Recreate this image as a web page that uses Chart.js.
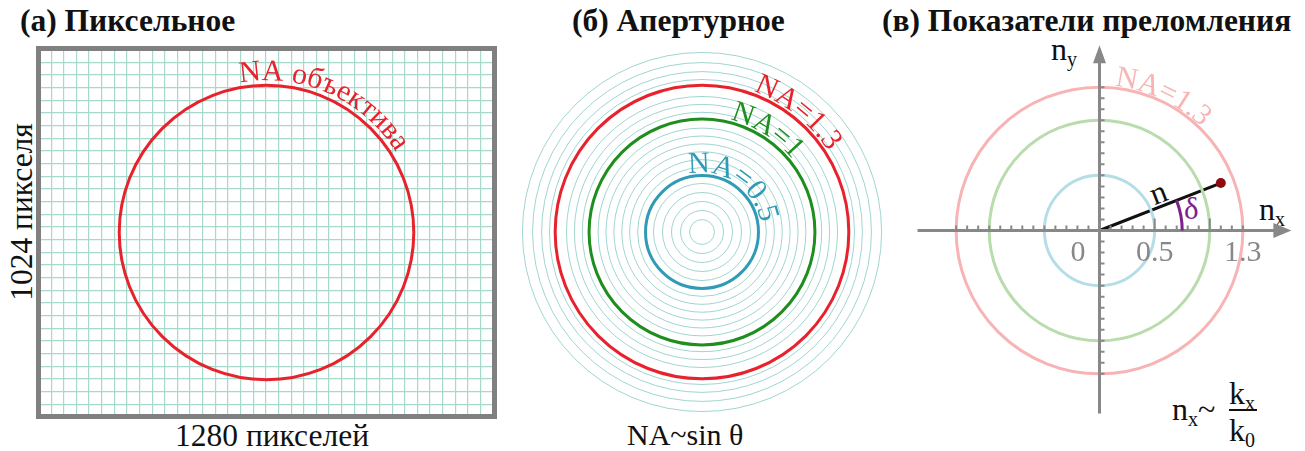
<!DOCTYPE html>
<html>
<head>
<meta charset="utf-8">
<script src="https://cdn.jsdelivr.net/npm/chart.js@4.4.1/dist/chart.umd.min.js"></script>
<style>
body{margin:0;background:#fff;width:1305px;height:451px;position:relative;overflow:hidden;font-family:"Liberation Serif","DejaVu Serif",serif;color:#111;}
.t{position:absolute;white-space:nowrap;line-height:1;}
.title{font-weight:bold;font-size:31.5px;}
.cap{font-size:31.5px;}
.lab{font-size:32px;}
.lab .s{font-size:20px;position:relative;top:6px;}
canvas{position:absolute;}
</style>
</head>
<body>
<div class="t title" style="left:20px;top:5px">(а) Пиксельное</div>
<div class="t title" style="left:572px;top:5px">(б) Апертурное</div>
<div class="t title" style="left:882px;top:5px">(в) Показатели преломления</div>

<div class="t cap" style="left:22px;top:212px;transform:translate(-50%,-50%) rotate(-90deg)">1024 пикселя</div>
<div class="t cap" style="left:175px;top:420px">1280 пикселей</div>
<div class="t cap" style="left:627px;top:420px;font-size:30px">NA~sin θ</div>

<div class="t lab" style="left:1051px;top:33px">n<span class="s">y</span></div>
<div class="t lab" style="left:1259px;top:193px">n<span class="s">x</span></div>
<div class="t lab" style="left:1150px;top:176px;transform:rotate(-21deg)">n</div>
<div class="t lab" style="left:1184px;top:193px;color:#7d1f8c;font-size:31px">δ</div>
<div class="t lab" style="left:1172px;top:393px">n<span class="s">x</span>~</div>
<div class="t lab" style="left:1229px;top:377px">k<span class="s">x</span></div>
<div style="position:absolute;left:1229px;top:409px;width:28px;height:2px;background:#111"></div>
<div class="t lab" style="left:1229px;top:414px">k<span class="s">0</span></div>

<canvas id="chartA" width="461" height="373" style="left:36px;top:46px"></canvas>
<canvas id="chartB" width="384" height="384" style="left:510px;top:40px"></canvas>
<canvas id="chartC" width="407" height="407" style="left:896px;top:27px"></canvas>

<script>
// (а) sensor frame, in camera pixels
const frameW = 1280, frameH = 1024;
const gridStepX = 35.85, gridStepY = 35.73;
const gridStartX = 28.7, gridStartY = 27.4;
const lensCenter = [{x: 640, y: 512}];
const lensRadius = [418];
const lensLabel = 'NA объектива';

// (б) pupil rings, NA units
const pupilRings = [0.11, 0.19, 0.27, 0.35, 0.43, 0.57, 0.64, 0.71, 0.78, 0.85, 0.92, 1.06, 1.13, 1.20, 1.35, 1.42, 1.50, 1.59];
const apertureNA = [0.5, 1, 1.3];
const apertureLabels = ['NA=0.5', 'NA=1', 'NA=1.3'];
const apertureColors = ['#2f9bb6', '#1e8f1e', '#e8222c'];
const apertureLabelStart = [-13, 14, 20];

// (в) index space
const indexNA = [0.5, 1, 1.3];
const indexColors = ['#b5dde7', '#b9dcad', '#f8b4b4'];
const nVector = [{x: 0, y: 0}, {x: 1.1, y: 0.43}];
const xTickLabels = [0, 0.5, 1.3];
const majorTicks = [0.5, 1];

const serif = '"Liberation Serif", serif';

function unitPx(chart) {
  const s = chart.scales.x;
  return s.getPixelForValue(1) - s.getPixelForValue(0);
}

// letters placed one by one along a circle, start angle clockwise from 12 o'clock
function arcText(ctx, text, cx, cy, r, startDeg, font, color) {
  ctx.save();
  ctx.font = font;
  ctx.fillStyle = color;
  ctx.textAlign = 'center';
  ctx.textBaseline = 'alphabetic';
  let a = startDeg * Math.PI / 180;
  for (const ch of text) {
    const w = ctx.measureText(ch).width;
    const mid = a + w / 2 / r;
    ctx.save();
    ctx.translate(cx + r * Math.sin(mid), cy - r * Math.cos(mid));
    ctx.rotate(mid);
    ctx.fillText(ch, 0, 0);
    ctx.restore();
    a += w / r;
  }
  ctx.restore();
}

const base = {
  responsive: false,
  animation: false,
  events: [],
  plugins: {legend: {display: false}, tooltip: {enabled: false}}
};

// ---------- (а)
const gridX = [], gridY = [];
for (let v = gridStartX; v < frameW; v += gridStepX) gridX.push(v);
for (let v = gridStartY; v < frameH; v += gridStepY) gridY.push(v);

new Chart(document.getElementById('chartA'), {
  type: 'scatter',
  data: {
    datasets: [{
      data: lensCenter,
      pointRadius: c => c.chart.scales.x.getPixelForValue(lensCenter[c.dataIndex].x + lensRadius[c.dataIndex]) - c.chart.scales.x.getPixelForValue(lensCenter[c.dataIndex].x),
      pointBackgroundColor: 'rgba(0,0,0,0)',
      pointBorderColor: '#e8222c',
      pointBorderWidth: 3,
      clip: false
    }]
  },
  options: {
    ...base,
    layout: {padding: 5},
    scales: {
      x: {min: 0, max: frameW, ticks: {display: false}, border: {display: false},
          grid: {color: '#a6d8cc', lineWidth: 1.2, drawTicks: false},
          afterBuildTicks: s => { s.ticks = gridX.map(v => ({value: v})); }},
      y: {min: 0, max: frameH, ticks: {display: false}, border: {display: false},
          grid: {color: '#a6d8cc', lineWidth: 1.2, drawTicks: false},
          afterBuildTicks: s => { s.ticks = gridY.map(v => ({value: v})); }}
    }
  },
  plugins: [{
    id: 'frameA',
    afterDraw(chart) {
      const {ctx, chartArea: a, scales: {x, y}} = chart;
      ctx.save();
      ctx.strokeStyle = '#808080';
      ctx.lineWidth = 5;
      ctx.strokeRect(a.left - 2.5, a.top - 2.5, a.width + 5, a.height + 5);
      ctx.restore();
      const cx = x.getPixelForValue(lensCenter[0].x), cy = y.getPixelForValue(lensCenter[0].y);
      const r = x.getPixelForValue(lensCenter[0].x + lensRadius[0]) - cx;
      arcText(ctx, lensLabel, cx, cy, r + 5, -10, '30px ' + serif, '#e8222c');
    }
  }]
});

// ---------- (б)
new Chart(document.getElementById('chartB'), {
  type: 'scatter',
  data: {
    datasets: [{
      data: pupilRings.map(() => ({x: 0, y: 0})),
      pointRadius: c => unitPx(c.chart) * pupilRings[c.dataIndex],
      pointBackgroundColor: 'rgba(0,0,0,0)',
      pointBorderColor: '#9fd5cf',
      pointBorderWidth: 1,
      clip: false
    }, {
      data: apertureNA.map(() => ({x: 0, y: 0})),
      pointRadius: c => unitPx(c.chart) * apertureNA[c.dataIndex],
      pointBackgroundColor: 'rgba(0,0,0,0)',
      pointBorderColor: apertureColors,
      pointBorderWidth: 3,
      clip: false
    }]
  },
  options: {
    ...base,
    scales: {
      x: {display: false, min: -1.7, max: 1.7},
      y: {display: false, min: -1.7, max: 1.7}
    }
  },
  plugins: [{
    id: 'labelsB',
    afterDatasetsDraw(chart) {
      const {ctx, scales: {x, y}} = chart;
      const cx = x.getPixelForValue(0), cy = y.getPixelForValue(0), u = unitPx(chart);
      apertureNA.forEach((na, i) => {
        arcText(ctx, apertureLabels[i], cx, cy, na * u + 3, apertureLabelStart[i], '30px ' + serif, apertureColors[i]);
      });
    }
  }]
});

// ---------- (в)
new Chart(document.getElementById('chartC'), {
  type: 'scatter',
  data: {
    datasets: [{
      data: indexNA.map(() => ({x: 0, y: 0})),
      pointRadius: c => unitPx(c.chart) * indexNA[c.dataIndex],
      pointBackgroundColor: 'rgba(0,0,0,0)',
      pointBorderColor: indexColors,
      pointBorderWidth: 3,
      clip: false
    }, {
      data: nVector,
      showLine: true,
      borderColor: '#111',
      borderWidth: 3,
      pointRadius: [0, 5],
      pointBackgroundColor: '#8e0b12',
      pointBorderWidth: 0,
      clip: false
    }]
  },
  options: {
    ...base,
    scales: {
      x: {display: false, min: -1.8, max: 1.8},
      y: {display: false, min: -1.8, max: 1.8}
    }
  },
  plugins: [{
    id: 'axesC',
    beforeDatasetsDraw(chart) {
      const {ctx, scales: {x, y}} = chart;
      const u = unitPx(chart);
      const cx = x.getPixelForValue(0), cy = y.getPixelForValue(0);
      // NA=1.3 label on the outer circle
      arcText(ctx, 'NA=1.3', cx, cy, indexNA[2] * u + 2, 6, '30px ' + serif, indexColors[2]);
    },
    afterDatasetsDraw(chart) {
      const {ctx, scales: {x, y}} = chart;
      const u = unitPx(chart);
      const cx = x.getPixelForValue(0), cy = y.getPixelForValue(0);
      ctx.save();
      ctx.strokeStyle = '#888';
      ctx.fillStyle = '#888';
      ctx.lineWidth = 3;
      ctx.beginPath();
      ctx.moveTo(x.getPixelForValue(-1.65), cy);
      ctx.lineTo(x.getPixelForValue(1.6), cy);
      ctx.moveTo(cx, y.getPixelForValue(-1.66));
      ctx.lineTo(cx, y.getPixelForValue(1.55));
      ctx.stroke();
      // arrow heads
      const xe = x.getPixelForValue(1.74), ye = y.getPixelForValue(1.68);
      ctx.beginPath();
      ctx.moveTo(xe, cy); ctx.lineTo(xe - 18, cy - 7.5); ctx.lineTo(xe - 18, cy + 7.5); ctx.closePath();
      ctx.moveTo(cx, ye); ctx.lineTo(cx - 6.5, ye + 18); ctx.lineTo(cx + 6.5, ye + 18); ctx.closePath();
      ctx.fill();
      // ticks every 0.1
      ctx.lineWidth = 2;
      ctx.beginPath();
      for (let k = -13; k <= 13; k++) {
        if (k === 0) continue;
        const v = k / 10;
        const px = x.getPixelForValue(v), py = y.getPixelForValue(v);
        const len = majorTicks.includes(v) ? 12 : 5;
        ctx.moveTo(px, cy); ctx.lineTo(px, cy - len);
        ctx.moveTo(cx, py); ctx.lineTo(cx + 5, py);
      }
      ctx.stroke();
      // tick labels
      ctx.font = '30px ' + serif;
      ctx.textBaseline = 'alphabetic';
      xTickLabels.forEach(v => {
        if (v === 0) {
          ctx.textAlign = 'right';
          ctx.fillText(String(v), cx - 14, cy + 30);
        } else {
          ctx.textAlign = 'center';
          ctx.fillText(String(v), x.getPixelForValue(v), cy + 30);
        }
      });
      // angle delta
      const p = nVector[1];
      ctx.strokeStyle = '#7d1f8c';
      ctx.lineWidth = 3;
      ctx.beginPath();
      ctx.arc(cx, cy, 0.75 * u, -Math.atan2(p.y, p.x), 0);
      ctx.stroke();
      ctx.restore();
    }
  }]
});
</script>
</body>
</html>
